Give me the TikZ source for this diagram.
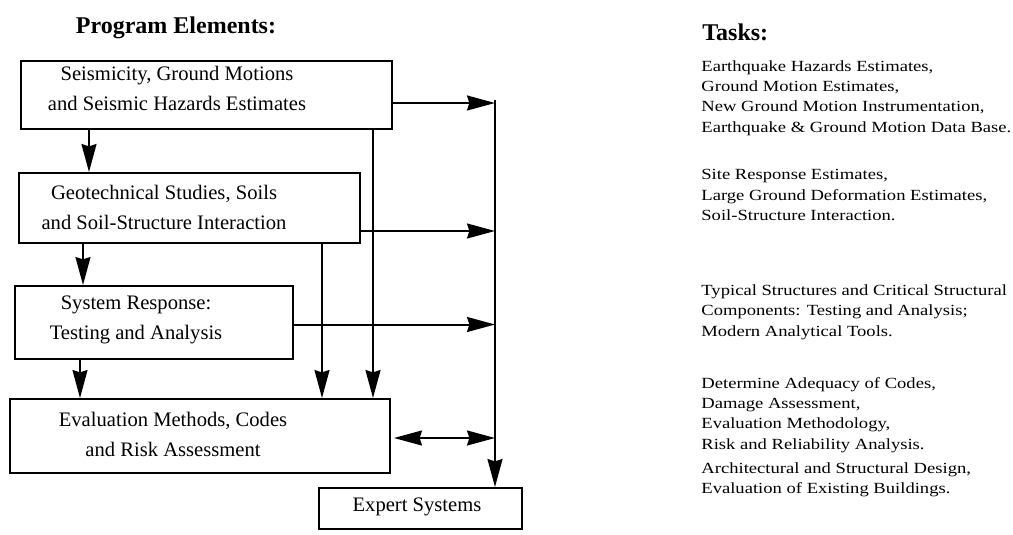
\documentclass[tikz,border=0pt]{standalone}
\usepackage{fontspec}
\setmainfont{Liberation Serif}
\newfontfamily\taskfont[FakeStretch=1.2]{Liberation Serif}
\usetikzlibrary{arrows.meta}

\begin{document}
\begin{tikzpicture}[x=0.5pt,y=-0.5pt,
  box/.style={draw,line width=1pt,anchor=north west,inner sep=0pt},
  boxtxt/.style={align=center,inner sep=0pt,font=\fontsize{10.3}{15}\selectfont},
  tasktxt/.style={anchor=west,align=left,inner sep=0pt,font=\taskfont\fontsize{7.75}{10.2}\selectfont},
  head/.style={inner sep=0pt,font=\bfseries\fontsize{12}{14}\selectfont},
  arr/.style={line width=1pt,-{Stealth[length=14pt,width=7.5pt,inset=1.2pt]}},
  dbl/.style={line width=1pt,{Stealth[length=14pt,width=7.5pt,inset=1.2pt]}-{Stealth[length=14pt,width=7.5pt,inset=1.2pt]}}]
\useasboundingbox (0,0) rectangle (1013,535);
\node [head,anchor=base] (progel) at (176,34) {Program Elements:};
\node [head,anchor=base west] (tasks) at (702,41) {Tasks:};
\node [box,minimum width=185.5pt,minimum height=34pt] (seis) at (20,60) {};
\node [box,minimum width=170.5pt,minimum height=35pt] (geo) at (18,172) {};
\node [box,minimum width=139pt,minimum height=36.5pt] (sys) at (14,285) {};
\node [box,minimum width=190pt,minimum height=37pt] (eval) at (9,398) {};
\node [box,minimum width=101.5pt,minimum height=20.5pt] (expert) at (318,487) {};
\node [boxtxt] (seistxt) at (177,88) {Seismicity, Ground Motions\\and Seismic Hazards Estimates};
\node [boxtxt] (geotxt) at (164,207) {Geotechnical Studies, Soils\\and Soil-Structure Interaction};
\node [boxtxt] (systxt) at (136,320) {System Response:\\Testing and Analysis};
\node [boxtxt] (evaltxt) at (173,434) {Evaluation Methods, Codes\\and Risk Assessment};
\node [boxtxt] (experttxt) at (417,507) {Expert Systems};
\node [tasktxt] (seistask) at (701,98) {Earthquake Hazards Estimates,\\Ground Motion Estimates,\\New Ground Motion Instrumentation,\\Earthquake \& Ground Motion Data Base.};
\node [tasktxt] (geotask) at (701,195) {Site Response Estimates,\\Large Ground Deformation Estimates,\\Soil-Structure Interaction.};
\node [tasktxt] (systask) at (701,312) {Typical Structures and Critical Structural\\Components: Testing and Analysis;\\Modern Analytical Tools.};
\node [tasktxt] (evaltask) at (701,415) {Determine Adequacy of Codes,\\Damage Assessment,\\Evaluation Methodology,\\Risk and Reliability Analysis.};
\node [tasktxt] (experttask) at (701,480) {Architectural and Structural Design,\\Evaluation of Existing Buildings.};
\coordinate (d1) at (89,0);
\coordinate (d2) at (83,0);
\coordinate (d3) at (80,0);
\coordinate (v1) at (373,0);
\coordinate (v2) at (322,0);
\coordinate (bus) at (495,0);
\coordinate (bustop) at (495,100);
\coordinate (seisout) at ([yshift=-4pt]seis.east);
\coordinate (geoout) at ([yshift=-11.5pt]geo.east);
\coordinate (sysout) at ([yshift=-1pt]sys.east);
\coordinate (evalout) at ([xshift=1.5pt,yshift=-1pt]eval.east);
\draw [arr] (seis.south -| d1) -- (geo.north -| d1);
\draw [arr] (geo.south -| d2) -- (sys.north -| d2);
\draw [arr] (sys.south -| d3) -- (eval.north -| d3);
\draw [arr] (seis.south -| v1) -- (eval.north -| v1);
\draw [arr] (geo.south -| v2) -- (eval.north -| v2);
\draw [arr] (seisout) -- (seisout -| bus);
\draw [arr] (geoout) -- (geoout -| bus);
\draw [arr] (sysout) -- (sysout -| bus);
\draw [dbl] (evalout) -- (evalout -| bus);
\draw [arr] (bustop) -- (bustop |- expert.north);
\end{tikzpicture}
\end{document}
